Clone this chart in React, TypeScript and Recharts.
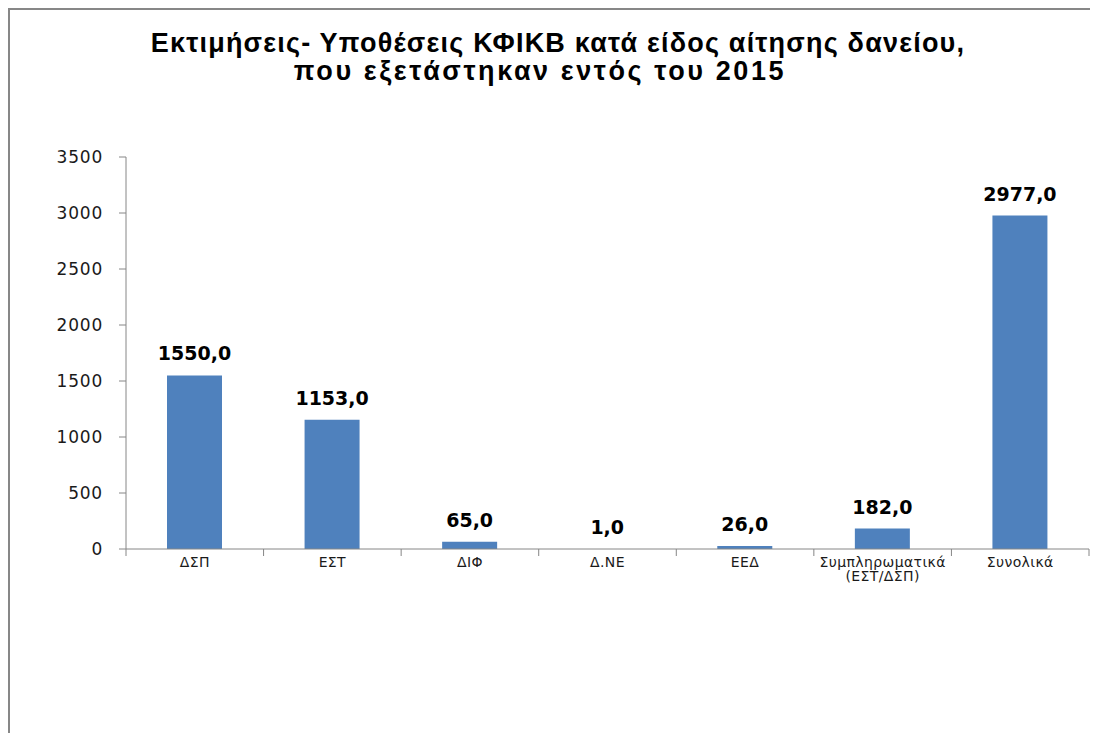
import React from 'react'
import { BarChart, Bar, XAxis, YAxis, LabelList } from 'recharts'

// Κατηγορίες και τιμές
const categories = ['ΔΣΠ', 'ΕΣΤ', 'ΔΙΦ', 'Δ.ΝΕ', 'ΕΕΔ', 'Συμπληρωματικά (ΕΣΤ/ΔΣΠ)', 'Συνολικά']
const values = [1550, 1153, 65, 1, 26, 182, 2977]
const yTicks = [0, 500, 1000, 1500, 2000, 2500, 3000, 3500]

const titleLines = [
  'Εκτιμήσεις- Υποθέσεις ΚΦΙΚΒ κατά είδος αίτησης δανείου,',
  'που εξετάστηκαν εντός του 2015'
]

const data = categories.map((name, i) => ({ name, value: values[i] }))

const AXIS_COLOR = '#868686'
const BAR_COLOR = '#4F81BD'

const CHART_W = 1088
const CHART_H = 723
const MARGIN = { top: 147, right: 9, bottom: 144, left: 0 }
const Y_AXIS_W = 116
const BAND = (CHART_W - MARGIN.left - MARGIN.right - Y_AXIS_W) / categories.length

const formatValue = (v: number) => v.toFixed(1).replace('.', ',')

// Ετικέτες κατηγοριών (δύο γραμμές όταν έχουν κενό) + γραμμές στα όρια
const CategoryTick = (props: any) => {
  const { x, y, payload, index } = props
  const lines = String(payload.value).split(' ')
  const top = y - 8
  return (
    <g>
      <line x1={x - BAND / 2} x2={x - BAND / 2} y1={top} y2={top + 7} stroke={AXIS_COLOR} />
      {index === categories.length - 1 && (
        <line x1={x + BAND / 2} x2={x + BAND / 2} y1={top} y2={top + 7} stroke={AXIS_COLOR} />
      )}
      <text
        x={x}
        y={y}
        textAnchor="middle"
        fontFamily="DejaVu Sans, Verdana, sans-serif"
        fontSize={14}
        letterSpacing={0.4}
        fill="#1a1a1a"
      >
        {lines.map((line, i) => (
          <tspan key={i} x={x} dy={i === 0 ? 10 : 14}>
            {line}
          </tspan>
        ))}
      </text>
    </g>
  )
}

export default function App() {
  return (
    <div
      style={{
        position: 'relative',
        width: 1090,
        height: 725,
        boxSizing: 'border-box',
        borderTop: '2px solid #878787',
        borderLeft: '2px solid #878787',
        background: '#fff'
      }}
    >
      <div
        style={{
          position: 'absolute',
          top: 19,
          left: 0,
          width: 1096,
          textAlign: 'center',
          fontFamily: '"Liberation Sans", Arial, sans-serif',
          fontWeight: 'bold',
          fontSize: 27,
          lineHeight: '28px',
          color: '#000'
        }}
      >
        <div style={{ letterSpacing: 1.2 }}>{titleLines[0]}</div>
        <div style={{ letterSpacing: 2.6, marginRight: 36 }}>{titleLines[1]}</div>
      </div>
      <BarChart width={CHART_W} height={CHART_H} data={data} margin={MARGIN}>
        <XAxis
          dataKey="name"
          interval={0}
          tickLine={false}
          axisLine={{ stroke: AXIS_COLOR }}
          tick={<CategoryTick />}
          height={40}
        />
        <YAxis
          width={Y_AXIS_W}
          domain={[0, 3500]}
          ticks={yTicks}
          interval={0}
          tickSize={7}
          tickMargin={16}
          axisLine={{ stroke: AXIS_COLOR }}
          tickLine={{ stroke: AXIS_COLOR }}
          tick={{
            fill: '#1a1a1a',
            fontSize: 17,
            fontFamily: 'DejaVu Sans, Verdana, sans-serif',
            letterSpacing: 0.8
          }}
        />
        <Bar dataKey="value" fill={BAR_COLOR} barSize={55} isAnimationActive={false}>
          <LabelList
            dataKey="value"
            position="top"
            offset={15}
            formatter={(v: any) => formatValue(Number(v))}
            style={{
              fontFamily: 'DejaVu Sans, Verdana, sans-serif',
              fontWeight: 'bold',
              fontSize: 19,
              fill: '#000'
            }}
          />
        </Bar>
      </BarChart>
    </div>
  )
}
